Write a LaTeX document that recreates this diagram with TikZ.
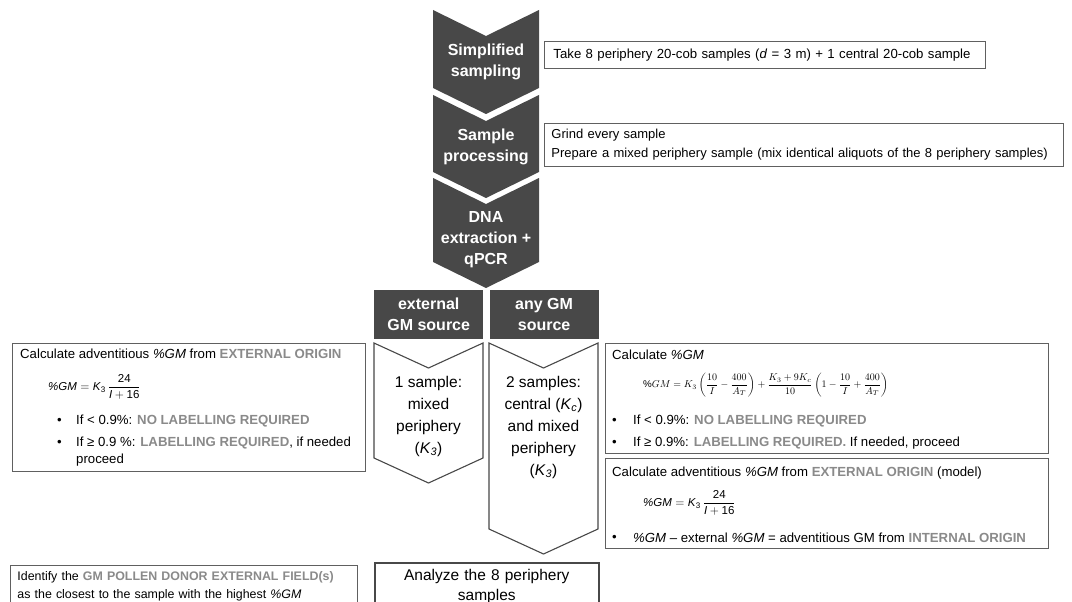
\documentclass[tikz,border=0pt]{standalone}
\usepackage{fontspec}
\usepackage{amsmath}
\setmainfont{Liberation Sans}
\usetikzlibrary{positioning}
\definecolor{chevdark}{RGB}{72,72,72}
\definecolor{hlgray}{RGB}{138,138,138}
\definecolor{framegray}{RGB}{96,96,96}
\newcommand{\hl}[1]{\textbf{\textcolor{hlgray}{#1}}}
\newcommand{\pgm}{\textit{\%GM}}
\newcommand{\extformula}{$\text{\textit{\%GM}} =\text{\textit{K}}_{\text{3}}\,\dfrac{\text{24}}{\text{\textit{I}} + \text{16}}$}
\newcommand{\chevron}[6][]{\path[#1] (#2,#4) -- ({#2+#3/2},{#4+#6}) -- ({#2+#3},#4) -- ({#2+#3},#5) -- ({#2+#3/2},{#5+#6}) -- (#2,#5) -- cycle;}
\tikzset{
  darkchev/.style={fill=chevdark, draw=none},
  whitechev/.style={fill=white, draw=chevdark, line width=1.1pt},
  chevlabel/.style={text=white, align=center, inner sep=0pt,
    font=\fontsize{16}{21}\selectfont\bfseries},
  headbox/.style={rectangle, fill=chevdark, text=white, minimum width=109pt,
    minimum height=49pt, align=center, inner sep=0pt, anchor=north west,
    font=\fontsize{16}{21}\selectfont\bfseries},
  choicetext/.style={align=center, inner sep=0pt, font=\fontsize{15.5}{22}\selectfont},
  frame/.style={rectangle, draw=framegray, line width=0.9pt, fill=white,
    anchor=north west, inner sep=0pt},
  textframe/.style={rectangle, draw=framegray, line width=0.9pt, fill=white,
    anchor=north west, align=left, inner xsep=9pt,
    font=\fontsize{13.2}{17}\selectfont},
  body/.style={anchor=west, inner sep=0pt, align=left, font=\fontsize{13.2}{17}\selectfont},
  formula/.style={anchor=west, inner sep=0pt, font=\fontsize{11.5}{13}\selectfont},
}
\begin{document}
\begin{tikzpicture}[x=1pt, y=-1pt]
  \useasboundingbox (0,0) rectangle (1072,602);
  \clip (0,0) rectangle (1072,602);
  \fill[white] (0,0) rectangle (1072,602);

  \chevron[darkchev]{433}{106}{10}{88}{26}
  \chevron[darkchev]{433}{106}{95}{172}{26}
  \chevron[darkchev]{433}{106}{178}{262}{26}
  \node[chevlabel] (sampling) at (486,62) {Simplified\\sampling};
  \node[chevlabel] (processing) at (486,147) {Sample\\processing};
  \node[chevlabel] (extraction) at (486,240) {DNA\\extraction +\\qPCR};

  \node[textframe, text width=423pt, minimum height=27pt] (takebox) at (544,41)
    {Take 8 periphery 20-cob samples (\textit{d} = 3 m) + 1 central 20-cob sample};
  \node[textframe, text width=505pt, inner xsep=7pt, minimum height=43pt,
    font=\fontsize{13}{19}\selectfont] (grindbox) at (544,123)
    {Grind every sample\\Prepare a mixed periphery sample (mix identical aliquots of the 8 periphery samples)};

  \node[headbox] (extsrc) at (374,290) {external\\GM source};
  \node[headbox, right=6pt of extsrc.north east, anchor=north west] (anysrc) {any GM\\source};

  \chevron[whitechev]{374}{109}{343}{458}{25}
  \chevron[whitechev]{489}{109}{343}{529}{25}
  \node[choicetext] (onesample) at (428.5,416) {1 sample:\\mixed\\periphery\\(\textit{K}\textsubscript{\textit{3}})};
  \node[choicetext] (twosample) at (543.5,427) {2 samples:\\central (\textit{K}\textsubscript{\textit{c}})\\and mixed\\periphery\\(\textit{K}\textsubscript{\textit{3}})};

  \node[frame, minimum width=353pt, minimum height=128pt] (extcalc) at (12,343) {};
  \node[body] (extcalctitle) at (20,354) {Calculate adventitious \pgm{} from \hl{EXTERNAL ORIGIN}};
  \node[formula] (extcalcform) at (48,387) {\extformula};
  \node[body] (extdotA) at (57,421) {\textbullet};
  \node[body] (extitemA) at (76,421) {If < 0.9\%: \hl{NO LABELLING REQUIRED}};
  \node[body] (extdotB) at (57,443) {\textbullet};
  \node[body] (extitemB) at (76,451.5) {If ≥ 0.9 \%: \hl{LABELLING REQUIRED}, if needed\\proceed};

  \node[frame, minimum width=443pt, minimum height=110pt] (anycalc) at (605,343) {};
  \node[body] (anycalctitle) at (612,355) {Calculate \pgm};
  \node[formula, font=\fontsize{9.8}{11}\selectfont] (anycalcform) at (643,385)
    {$\%GM = K_3\left(\dfrac{10}{I}-\dfrac{400}{A_T}\right)+\dfrac{K_3+9K_c}{10}\left(1-\dfrac{10}{I}+\dfrac{400}{A_T}\right)$};
  \node[body] (anydotA) at (612,421) {\textbullet};
  \node[body] (anyitemA) at (633,421) {If < 0.9\%: \hl{NO LABELLING REQUIRED}};
  \node[body] (anydotB) at (612,443) {\textbullet};
  \node[body] (anyitemB) at (633,443) {If ≥ 0.9\%: \hl{LABELLING REQUIRED.} If needed, proceed};

  \node[frame, minimum width=443pt, minimum height=90pt] (modelcalc) at (605,458) {};
  \node[body] (modeltitle) at (612,473) {Calculate adventitious \pgm{} from \hl{EXTERNAL ORIGIN} (model)};
  \node[formula] (modelform) at (643,503) {\extformula};
  \node[body] (modeldot) at (612,538) {\textbullet};
  \node[body] (modelitem) at (633,538) {\pgm{} -- external \pgm{} = adventitious GM from \hl{INTERNAL ORIGIN}};

  \node[textframe, text width=333pt, inner xsep=7pt, inner ysep=6pt,
    font=\fontsize{12.4}{18}\selectfont] (donorbox) at (10,565)
    {Identify the \hl{GM POLLEN DONOR EXTERNAL FIELD(s)}\\as the closest to the sample with the highest \pgm\\[4pt]};
  \node[textframe, draw=chevdark, line width=1.6pt, text width=206pt, align=center,
    inner ysep=6pt, font=\fontsize{15.5}{20}\selectfont] (analyzebox) at (374,562)
    {Analyze the 8 periphery\\samples\\[4pt]};
\end{tikzpicture}
\end{document}
